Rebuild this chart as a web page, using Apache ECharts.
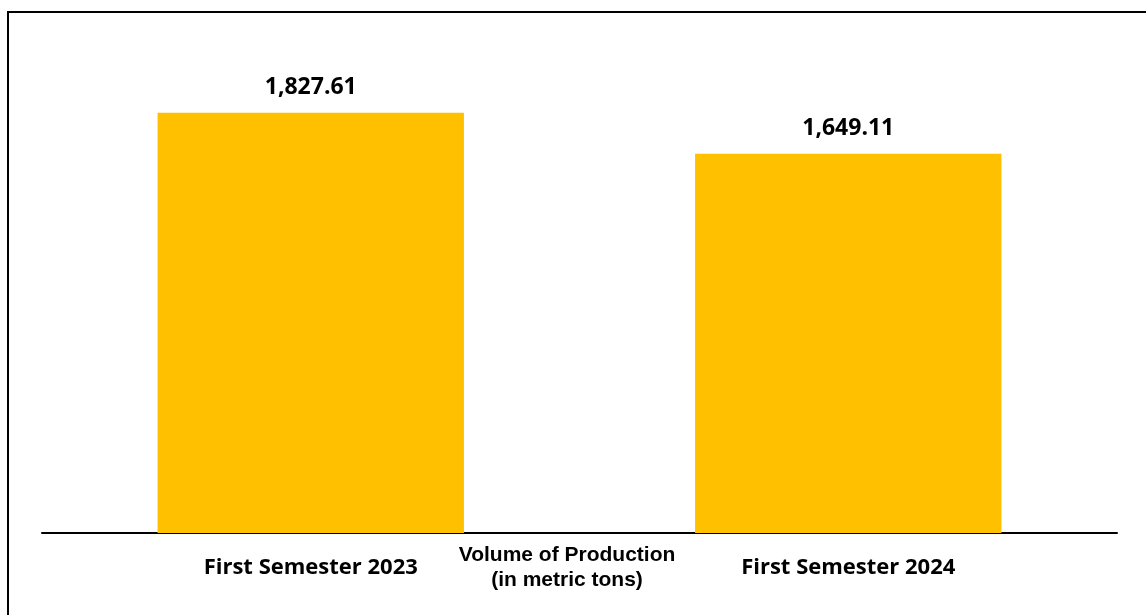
<!DOCTYPE html>
<html>
<head>
<meta charset="utf-8">
<script src="https://cdn.jsdelivr.net/npm/echarts@6/dist/echarts.min.js"></script>
<style>html,body{margin:0;padding:0;background:#fff;}#c{width:1146px;height:615px;}</style>
</head>
<body>
<div id="c"></div>
<script>
const categories = ['First Semester 2023', 'First Semester 2024'];
const seriesName = 'Volume of Production (in metric tons)';
const legendLines = ['Volume of Production', '(in metric tons)'];
const values = [1827.61, 1649.11];

const chart = echarts.init(document.getElementById('c'), null, {renderer: 'canvas'});
chart.setOption({
  animation: false,
  backgroundColor: '#fff',
  graphic: [{
    type: 'rect', silent: true,
    shape: {x: 8, y: 12, width: 1170, height: 640},
    style: {fill: 'none', stroke: '#000', lineWidth: 2}
  }],
  grid: {left: 42, right: 29, top: 73, bottom: 82},
  legend: {
    data: [seriesName],
    left: 446, top: 540,
    icon: 'rect', itemWidth: 0, itemHeight: 0, itemGap: 0,
    formatter: function () { return legendLines.map(function (s) { return '{a|' + s + '}'; }).join('\n'); },
    textStyle: {
      color: '#000',
      rich: {a: {fontFamily: 'Liberation Sans', fontWeight: 'bold', fontSize: 21, color: '#000', lineHeight: 25, align: 'center', width: 222}}
    }
  },
  xAxis: {
    type: 'category', data: categories,
    axisLine: {lineStyle: {color: '#000', width: 2}},
    axisTick: {show: false},
    axisLabel: {margin: 24, color: '#000', fontFamily: 'Open Sans', fontWeight: 'bold', fontSize: 22}
  },
  yAxis: {
    type: 'value', min: 0, max: 2000, show: false, splitLine: {show: false}
  },
  series: [{
    name: seriesName, type: 'bar', data: values, barWidth: '57%',
    itemStyle: {color: '#FFC000'},
    label: {
      show: true, position: 'top', distance: 14, color: '#000',
      fontFamily: 'Open Sans', fontWeight: 'bold', fontSize: 23,
      formatter: function (p) { return p.value.toLocaleString('en-US', {minimumFractionDigits: 2, maximumFractionDigits: 2}); }
    }
  }]
});
</script>
</body>
</html>
